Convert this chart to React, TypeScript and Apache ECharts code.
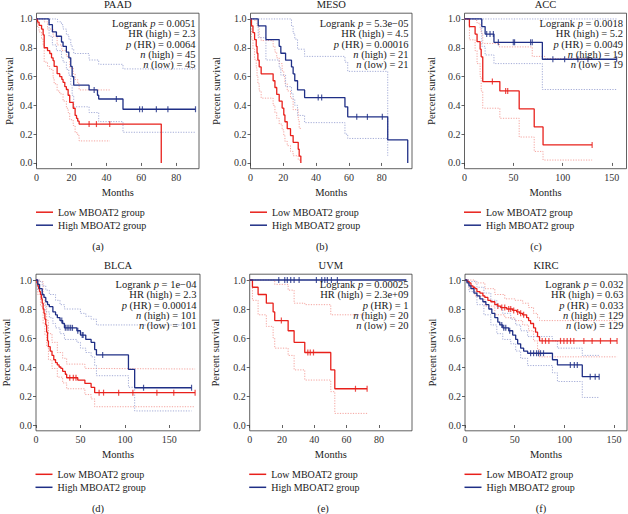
import React, { useEffect, useRef } from "react";
import * as echarts from "echarts";

type Pt = [number, number];

// ---------- DATA ----------
const LEGEND_NAMES = ["Low MBOAT2 group", "High MBOAT2 group"];
const TITLES = ["PAAD", "MESO", "ACC", "BLCA", "UVM", "KIRC"];
const LETTERS = ["(a)", "(b)", "(c)", "(d)", "(e)", "(f)"];
const X_TICKS_20 = [0, 20, 40, 60, 80];
const X_TICKS_50 = [0, 50, 100, 150];
const Y_TICKS = [0, 0.2, 0.4, 0.6, 0.8, 1.0];

const PAAD_STATS = ["Logrank {i|p} = 0.0051", "HR (high) = 2.3", "{i|p} (HR) = 0.0064", "{i|n} (high) = 45", "{i|n} (low) = 45"];
const MESO_STATS = ["Logrank {i|p} = 5.3e\u221205", "HR (high) = 4.5", "{i|p} (HR) = 0.00016", "{i|n} (high) = 21", "{i|n} (low) = 21"];
const ACC_STATS = ["Logrank {i|p} = 0.0018", "HR (high) = 5.2", "{i|p} (HR) = 0.0049", "{i|n} (high) = 19", "{i|n} (low) = 19"];
const BLCA_STATS = ["Logrank {i|p} = 1e\u221204", "HR (high) = 2.3", "{i|p} (HR) = 0.00014", "{i|n} (high) = 101", "{i|n} (low) = 101"];
const UVM_STATS = ["Logrank {i|p} = 0.00025", "HR (high) = 2.3e+09", "{i|p} (HR) = 1", "{i|n} (high) = 20", "{i|n} (low) = 20"];
const KIRC_STATS = ["Logrank {i|p} = 0.032", "HR (high) = 0.63", "{i|p} (HR) = 0.033", "{i|n} (high) = 129", "{i|n} (low) = 129"];

// PAAD
const PAAD_LOW: Pt[] = [[0,1],[0.6,0.978],[1.5,0.956],[2.9,0.93],[3.8,0.89],[4.4,0.80],[6.3,0.78],[7.6,0.76],[8.6,0.73],[9.5,0.71],[10.1,0.67],[11.8,0.62],[13.3,0.60],[14.5,0.58],[15.2,0.56],[16.2,0.53],[17.1,0.51],[18.1,0.47],[19,0.42],[21,0.38],[22.1,0.33],[22.9,0.31],[23.6,0.29],[24.4,0.27],[71.4,0]];
const PAAD_HIGH: Pt[] = [[0,1],[7.2,0.96],[9.1,0.91],[11.4,0.88],[14.3,0.84],[15.2,0.81],[17.1,0.77],[18.5,0.73],[19.6,0.67],[20.4,0.60],[21.3,0.54],[30.1,0.507],[34.9,0.47],[35.6,0.444],[49.5,0.373],[91,0.373]];
const PAAD_LOW_CENS = [30.1, 34.3, 41.9];
const PAAD_HIGH_CENS = [33, 45.7, 59, 60.6, 68.6, 75.2, 91];
const PAAD_LOW_CI_UP: Pt[] = [[0,1],[4.4,0.98],[6.3,0.93],[9.5,0.88],[11.8,0.82],[14.5,0.78],[17.1,0.74],[19,0.66],[21,0.62],[22.1,0.58],[23.6,0.55],[24.4,0.507],[42,0.507]];
const PAAD_LOW_CI_LO: Pt[] = [[0,1],[0.6,0.94],[1.5,0.91],[2.9,0.86],[3.8,0.82],[4.4,0.70],[6.3,0.67],[7.6,0.65],[9.5,0.59],[10.1,0.55],[11.8,0.50],[13.3,0.48],[15.2,0.43],[17.1,0.38],[18.1,0.35],[19,0.30],[21,0.26],[22.1,0.21],[23.6,0.19],[24.4,0.153],[42,0.153]];
const PAAD_HIGH_CI_UP: Pt[] = [[0,1],[12,0.98],[14.3,0.96],[15.2,0.93],[17.1,0.89],[18.5,0.86],[19.6,0.82],[20.4,0.79],[21.3,0.76],[30.1,0.715],[35.6,0.685],[49.5,0.653],[91,0.653]];
const PAAD_HIGH_CI_LO: Pt[] = [[0,1],[7.2,0.88],[9.1,0.82],[11.4,0.78],[14.3,0.73],[15.2,0.70],[17.1,0.65],[18.5,0.61],[19.6,0.54],[20.4,0.47],[21.3,0.39],[30.1,0.35],[35.6,0.287],[49.5,0.213],[91,0.213]];

// MESO
const MESO_LOW: Pt[] = [[0,1],[0.6,0.952],[1.5,0.905],[2.5,0.857],[3.5,0.81],[4,0.762],[4.5,0.714],[5.3,0.667],[6.5,0.619],[13.8,0.571],[14.9,0.524],[16,0.476],[17.5,0.429],[19.3,0.381],[20.3,0.333],[21,0.286],[22.4,0.238],[24.4,0.19],[26,0.143],[29.1,0.095],[29.7,0.048],[30.7,0]];
const MESO_HIGH: Pt[] = [[0,1],[4.7,0.952],[9.4,0.857],[17.5,0.81],[18.5,0.762],[21.4,0.714],[25,0.667],[26,0.619],[27,0.571],[28.7,0.507],[33,0.454],[57.6,0.39],[59.3,0.32],[83.7,0.16],[95.9,0]];
const MESO_LOW_CENS: number[] = [];
const MESO_HIGH_CENS = [41.3, 43.4, 64.8, 71.3, 80.4];
const MESO_LOW_CI_UP: Pt[] = [[0,1],[2.5,0.99],[4,0.95],[5.3,0.87],[6.5,0.85],[13.8,0.81],[14.9,0.77],[16,0.73],[17.5,0.69],[19.3,0.64],[20.3,0.60],[21,0.55],[22.4,0.50],[24.4,0.45],[26,0.37],[29.1,0.30],[29.7,0.24],[30.7,0.24]];
const MESO_LOW_CI_LO: Pt[] = [[0,1],[0.6,0.86],[1.5,0.79],[2.5,0.72],[3.5,0.66],[4,0.60],[4.5,0.55],[5.3,0.50],[6.5,0.45],[13.8,0.40],[14.9,0.35],[16,0.31],[17.5,0.27],[19.3,0.23],[20.3,0.19],[21,0.15],[22.4,0.12],[24.4,0.08],[26,0.05],[29.1,0.02],[30.7,0.02]];
const MESO_HIGH_CI_UP: Pt[] = [[0,1],[25,0.95],[26,0.90],[27,0.86],[28.7,0.79],[33,0.74],[57.6,0.70],[59.3,0.636],[83.7,0.05]];
const MESO_HIGH_CI_LO: Pt[] = [[0,1],[4.7,0.87],[9.4,0.715],[17.5,0.66],[18.5,0.61],[21.4,0.53],[25,0.48],[26,0.44],[27,0.40],[28.7,0.33],[33,0.28],[57.6,0.20],[59.3,0.17],[83.7,0.17]];

// ACC
const ACC_LOW: Pt[] = [[0,1],[5,0.947],[10.8,0.895],[12.8,0.842],[15.9,0.79],[17,0.737],[18.6,0.565],[36,0.50],[55.7,0.375],[71,0.25],[80,0.125],[130,0.125]];
const ACC_HIGH: Pt[] = [[0,1],[17.6,0.947],[21,0.895],[30,0.838],[79.3,0.72],[155,0.72]];
const ACC_LOW_CENS = [28.4, 41.9, 44, 130];
const ACC_HIGH_CENS = [22.6, 26, 29.4, 34.5, 49.7, 51, 67.3, 69, 90, 102, 115.5, 125.7, 155];
const ACC_LOW_CI_UP: Pt[] = [[0,1],[10.8,0.99],[12.8,0.97],[15.9,0.93],[17,0.90],[18.6,0.83],[35.5,0.806],[69,0.74],[82,0.725],[130,0.725]];
const ACC_LOW_CI_LO: Pt[] = [[0,1],[5,0.855],[10.8,0.78],[12.8,0.69],[15.9,0.60],[17,0.50],[18.6,0.38],[36,0.31],[55.7,0.18],[71,0.08],[80,0.02],[130,0.02]];
const ACC_HIGH_CI_UP: Pt[] = [[0,1],[155,1]];
const ACC_HIGH_CI_LO: Pt[] = [[0,1],[17.6,0.81],[21,0.75],[30,0.69],[79.3,0.51],[155,0.51]];

// BLCA
const BLCA_LOW: Pt[] = [[0,1],[1,0.98],[2,0.96],[3,0.94],[4,0.92],[5,0.90],[6,0.87],[7,0.84],[8,0.80],[9,0.77],[10,0.73],[11,0.69],[12,0.64],[13,0.58],[14,0.54],[16,0.51],[18,0.48],[20,0.45],[22,0.43],[24,0.414],[26,0.40],[28,0.39],[30,0.37],[33,0.35],[34.5,0.326],[47,0.31],[55,0.287],[62,0.26],[66,0.223],[179,0.223]];
const BLCA_HIGH: Pt[] = [[0,1],[2,0.97],[4,0.94],[7,0.90],[9,0.88],[11,0.85],[13,0.83],[15,0.816],[19,0.78],[22,0.76],[24,0.74],[27,0.72],[30,0.70],[32,0.67],[46,0.65],[50,0.62],[56,0.59],[62,0.57],[66,0.52],[68,0.483],[104,0.384],[111,0.257],[175,0.257]];
const BLCA_LOW_CENS = [38, 42, 45, 71, 76, 93, 109, 136, 155, 179];
const BLCA_HIGH_CENS = [29, 33, 35, 37, 39, 41, 47, 52, 53, 75, 121, 175];
const BLCA_LOW_CI_UP: Pt[] = [[0,1],[4,0.99],[8,0.88],[10,0.82],[12,0.72],[14,0.63],[18,0.57],[24,0.50],[30,0.46],[34.5,0.42],[55,0.39],[66,0.386],[179,0.386]];
const BLCA_LOW_CI_LO: Pt[] = [[0,1],[2,0.90],[5,0.82],[8,0.70],[10,0.62],[12,0.54],[14,0.45],[18,0.39],[24,0.33],[30,0.29],[34.5,0.25],[55,0.21],[62,0.18],[66,0.126],[179,0.126]];
const BLCA_HIGH_CI_UP: Pt[] = [[0,1],[4,0.99],[7,0.96],[11,0.93],[15,0.90],[22,0.86],[27,0.83],[32,0.80],[50,0.77],[56,0.75],[62,0.73],[68,0.69],[175,0.69]];
const BLCA_HIGH_CI_LO: Pt[] = [[0,1],[2,0.93],[7,0.83],[11,0.78],[15,0.74],[19,0.70],[22,0.67],[27,0.63],[32,0.59],[46,0.57],[50,0.53],[56,0.50],[62,0.47],[66,0.41],[68,0.34],[104,0.26],[111,0.097],[175,0.097]];

// UVM
const UVM_LOW: Pt[] = [[0,1],[1.7,0.95],[5.2,0.90],[10.3,0.84],[14.5,0.78],[15.5,0.72],[23.8,0.65],[27.5,0.57],[34.1,0.50],[50.2,0.38],[52.7,0.25],[72.7,0.25]];
const UVM_HIGH: Pt[] = [[0,1],[97,1]];
const UVM_LOW_CENS = [19.6, 36, 37.5, 39.5, 65.5, 72.7];
const UVM_HIGH_CENS = [18, 21.7, 23.3, 25.4, 27.5, 30.6, 41.3, 44.6, 46.5, 48.1, 50.6, 54.3];
const UVM_LOW_CI_UP: Pt[] = [[0,1],[15.5,0.97],[23.8,0.93],[27.5,0.84],[34.1,0.83],[50.2,0.76],[72.7,0.76]];
const UVM_LOW_CI_LO: Pt[] = [[0,1],[1.7,0.86],[5.2,0.76],[10.3,0.68],[14.5,0.60],[15.5,0.53],[23.8,0.48],[27.5,0.38],[34.1,0.31],[50.2,0.23],[52.7,0.08],[72.7,0.08]];

// KIRC
const KIRC_LOW: Pt[] = [[0,1],[2,0.99],[4,0.98],[6,0.96],[8,0.95],[10,0.94],[12,0.92],[15,0.91],[18,0.89],[20,0.88],[23,0.86],[26,0.85],[30,0.83],[33,0.82],[36,0.81],[42,0.80],[48,0.79],[52,0.78],[55,0.77],[58,0.76],[62,0.74],[64,0.72],[66,0.70],[69,0.67],[71,0.64],[73,0.61],[75,0.58],[153,0.58]];
const KIRC_HIGH: Pt[] = [[0,1],[2,0.98],[4,0.96],[6,0.94],[9,0.91],[12,0.89],[15,0.87],[18,0.85],[21,0.83],[24,0.80],[27,0.77],[30,0.74],[33,0.71],[35,0.69],[38,0.67],[44,0.65],[48,0.62],[51,0.59],[53,0.56],[56,0.53],[59,0.51],[63,0.495],[88,0.45],[93,0.414],[118,0.333],[135,0.333]];
const KIRC_LOW_CENS = [33, 37, 40, 44, 46, 49, 53, 56, 59, 77.7, 81, 84.4, 96.1, 99.5, 102.8, 106.2, 109.5, 119.6, 127.9, 136.3, 146.4, 153];
const KIRC_HIGH_CENS = [37, 39, 41, 45, 66, 69, 72, 74, 76, 79, 106, 110, 113, 126, 131, 135];
const KIRC_LOW_CI_UP: Pt[] = [[0,1],[10,0.98],[20,0.94],[30,0.90],[40,0.87],[50,0.86],[58,0.84],[64,0.81],[69,0.77],[73,0.74],[75,0.72],[153,0.72]];
const KIRC_LOW_CI_LO: Pt[] = [[0,1],[4,0.94],[10,0.89],[20,0.82],[30,0.76],[40,0.74],[50,0.72],[58,0.69],[64,0.65],[69,0.58],[73,0.52],[75,0.47],[153,0.47]];
const KIRC_HIGH_CI_UP: Pt[] = [[0,1],[4,0.99],[12,0.95],[19,0.91],[26,0.86],[32,0.81],[38,0.77],[46,0.73],[51,0.69],[56,0.65],[63,0.61],[88,0.58],[93,0.53],[118,0.48],[135,0.48]];
const KIRC_HIGH_CI_LO: Pt[] = [[0,1],[4,0.92],[12,0.83],[19,0.76],[26,0.69],[32,0.63],[38,0.59],[46,0.56],[51,0.51],[56,0.46],[63,0.41],[88,0.36],[93,0.30],[118,0.19],[135,0.19]];

// ---------- STYLE / LAYOUT ----------
const RED = "#e8201b";
const BLUE = "#1f2f86";
const RED_CI = "#f39a94";
const BLUE_CI = "#9aa3d2";
const FONT = "'Liberation Serif', 'Times New Roman', serif";
const TEXT = "#1a1a1a";

const TOP_ROW = { top: 13.2, height: 155.5 };
const BOT_ROW = { top: 274.2, height: 156.6 };
const LAYOUT = [
  { left: 36.5, width: 162.5, xMax: 93, ticks: X_TICKS_20, row: TOP_ROW, nameGap: 22, letterX: 98 },
  { left: 250.5, width: 161.5, xMax: 98.5, ticks: X_TICKS_20, row: TOP_ROW, nameGap: 29, letterX: 322 },
  { left: 464.5, width: 162, xMax: 165, ticks: X_TICKS_50, row: TOP_ROW, nameGap: 28, letterX: 536 },
  { left: 36, width: 164, xMax: 184.5, ticks: X_TICKS_50, row: BOT_ROW, nameGap: 24, letterX: 98 },
  { left: 249.7, width: 162.3, xMax: 100.5, ticks: X_TICKS_20, row: BOT_ROW, nameGap: 29, letterX: 323 },
  { left: 465, width: 162, xMax: 163, ticks: X_TICKS_50, row: BOT_ROW, nameGap: 27, letterX: 541 },
];

const PANELS = [
  { stats: PAAD_STATS, low: PAAD_LOW, high: PAAD_HIGH, lowCens: PAAD_LOW_CENS, highCens: PAAD_HIGH_CENS, ci: [[PAAD_LOW_CI_UP, RED_CI], [PAAD_LOW_CI_LO, RED_CI], [PAAD_HIGH_CI_UP, BLUE_CI], [PAAD_HIGH_CI_LO, BLUE_CI]] },
  { stats: MESO_STATS, low: MESO_LOW, high: MESO_HIGH, lowCens: MESO_LOW_CENS, highCens: MESO_HIGH_CENS, ci: [[MESO_LOW_CI_UP, RED_CI], [MESO_LOW_CI_LO, RED_CI], [MESO_HIGH_CI_UP, BLUE_CI], [MESO_HIGH_CI_LO, BLUE_CI]] },
  { stats: ACC_STATS, low: ACC_LOW, high: ACC_HIGH, lowCens: ACC_LOW_CENS, highCens: ACC_HIGH_CENS, ci: [[ACC_LOW_CI_UP, RED_CI], [ACC_LOW_CI_LO, RED_CI], [ACC_HIGH_CI_UP, BLUE_CI], [ACC_HIGH_CI_LO, BLUE_CI]] },
  { stats: BLCA_STATS, low: BLCA_LOW, high: BLCA_HIGH, lowCens: BLCA_LOW_CENS, highCens: BLCA_HIGH_CENS, ci: [[BLCA_LOW_CI_UP, RED_CI], [BLCA_LOW_CI_LO, RED_CI], [BLCA_HIGH_CI_UP, BLUE_CI], [BLCA_HIGH_CI_LO, BLUE_CI]] },
  { stats: UVM_STATS, low: UVM_LOW, high: UVM_HIGH, lowCens: UVM_LOW_CENS, highCens: UVM_HIGH_CENS, ci: [[UVM_LOW_CI_UP, RED_CI], [UVM_LOW_CI_LO, RED_CI]] },
  { stats: KIRC_STATS, low: KIRC_LOW, high: KIRC_HIGH, lowCens: KIRC_LOW_CENS, highCens: KIRC_HIGH_CENS, ci: [[KIRC_LOW_CI_UP, RED_CI], [KIRC_LOW_CI_LO, RED_CI], [KIRC_HIGH_CI_UP, BLUE_CI], [KIRC_HIGH_CI_LO, BLUE_CI]] },
];

function survivalAt(curve: Pt[], t: number): number {
  let s = curve[0][1];
  for (const p of curve) {
    if (p[0] <= t) s = p[1];
    else break;
  }
  return s;
}

function buildOption(): any {
  const grid: any[] = [];
  const xAxis: any[] = [];
  const yAxis: any[] = [];
  const series: any[] = [];
  const legend: any[] = [];
  const graphic: any[] = [];

  PANELS.forEach((p, i) => {
    const L = LAYOUT[i];
    const top = L.row.top;
    const h = L.row.height;
    grid.push({ left: L.left, top, width: L.width, height: h, show: true, borderColor: "#3a3a3a", borderWidth: 0.8, backgroundColor: "transparent", containLabel: false });
    xAxis.push({
      type: "value", gridIndex: i, min: 0, max: L.xMax,
      name: "Months", nameLocation: "middle", nameGap: 18,
      nameTextStyle: { fontFamily: FONT, fontSize: 10.5, color: TEXT },
      axisLine: { show: false },
      axisTick: { show: true, length: 3, customValues: L.ticks, lineStyle: { color: "#3a3a3a", width: 0.8 } },
      axisLabel: { show: true, customValues: L.ticks, margin: 4, fontFamily: FONT, fontSize: 10, color: "#333" },
      splitLine: { show: false },
    });
    yAxis.push({
      type: "value", gridIndex: i, min: -0.04, max: 1.04,
      name: "Percent survival", nameLocation: "middle", nameGap: L.nameGap,
      nameTextStyle: { fontFamily: FONT, fontSize: 10.5, color: TEXT },
      axisLine: { show: false },
      axisTick: { show: true, length: 3, customValues: Y_TICKS, lineStyle: { color: "#3a3a3a", width: 0.8 } },
      axisLabel: { show: true, customValues: Y_TICKS, margin: 4, fontFamily: FONT, fontSize: 10, color: "#333", formatter: (v: number) => v.toFixed(1) },
      splitLine: { show: false },
    });

    p.ci.forEach(([data, color]: any) => {
      series.push({
        type: "line", name: "ci", xAxisIndex: i, yAxisIndex: i, data, step: "end",
        showSymbol: false, symbol: "none", silent: true,
        lineStyle: { color, width: 0.9, type: [1.2, 1.4] },
      });
    });
    const mains: [Pt[], number[], string, string][] = [
      [p.low, p.lowCens, RED, LEGEND_NAMES[0]],
      [p.high, p.highCens, BLUE, LEGEND_NAMES[1]],
    ];
    mains.forEach(([data, cens, color, name]) => {
      series.push({
        type: "line", name, xAxisIndex: i, yAxisIndex: i, data, step: "end",
        showSymbol: false, symbol: "none", silent: true, color,
        lineStyle: { color, width: 1.3 },
      });
    });
    mains.forEach(([data, cens, color]) => {
      if (!cens.length) return;
      series.push({
        type: "scatter", name: "censor", xAxisIndex: i, yAxisIndex: i,
        data: cens.map((t) => [t, survivalAt(data, t)]),
        symbol: "rect", symbolSize: [1.2, 6], silent: true, clip: false,
        itemStyle: { color },
      });
    });

    legend.push({
      left: L.left - 0.5, top: top + h + 38.5, orient: "vertical",
      itemWidth: 17, itemHeight: 1.5, itemGap: 3, icon: "rect",
      selectedMode: false, padding: 0, data: LEGEND_NAMES,
      textStyle: { fontFamily: FONT, fontSize: 10, color: TEXT },
    });

    graphic.push({
      type: "text", x: L.left + L.width / 2, y: top - 8.5, silent: true,
      style: { text: TITLES[i], fontFamily: FONT, fontSize: 10.5, fill: TEXT, align: "center", verticalAlign: "middle" },
    });
    p.stats.forEach((s, k) => {
      graphic.push({
        type: "text", x: L.left + L.width - 3.5, y: top + 10.3 * (k + 1), silent: true, z: 100,
        style: {
          text: s, fontFamily: FONT, fontSize: 10.5, fill: TEXT, align: "right", verticalAlign: "middle",
          rich: { i: { fontStyle: "italic", fontFamily: FONT, fontSize: 10.5, fill: TEXT } },
        },
      });
    });
    graphic.push({
      type: "text", x: L.letterX, y: top + h + 77.5, silent: true,
      style: { text: LETTERS[i], fontFamily: FONT, fontSize: 10.5, fill: TEXT, align: "center", verticalAlign: "middle" },
    });
  });

  return { animation: false, backgroundColor: "#fff", grid, xAxis, yAxis, series, legend, graphic };
}

export default function App() {
  const ref = useRef<HTMLDivElement>(null);
  useEffect(() => {
    if (!ref.current) return;
    const chart = echarts.init(ref.current, undefined, { renderer: "svg" });
    chart.setOption(buildOption());
    return () => chart.dispose();
  }, []);
  return <div ref={ref} style={{ position: "absolute", left: 0, top: 0, width: 628, height: 514 }} />;
}
